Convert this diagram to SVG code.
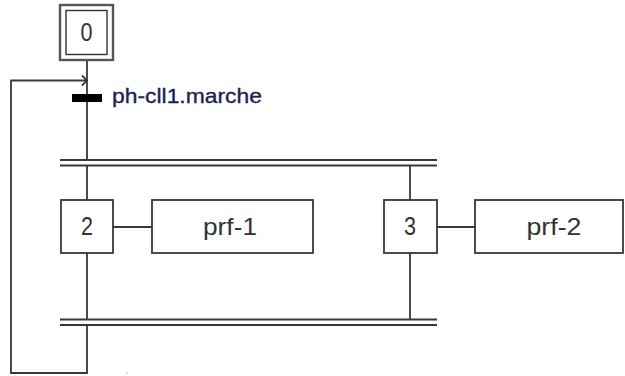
<svg xmlns="http://www.w3.org/2000/svg" width="625" height="376" viewBox="0 0 625 376">
<style>
  .ln{stroke:#383838;stroke-width:1.8;fill:none}
  .box{fill:#fff;stroke:#383838;stroke-width:1.8}
  .t{font-family:"Liberation Sans Narrow","Liberation Sans",Arial,sans-serif;fill:#333;text-anchor:middle}
  .num{font-size:25px}
  .lbl{font-size:24px}
</style>
<rect width="625" height="376" fill="#fff"/>
<g id="connectors">
  <line class="ln" x1="87" y1="60" x2="87" y2="160"/>
  <line class="ln" x1="87" y1="165" x2="87" y2="200"/>
  <line class="ln" x1="87" y1="253" x2="87" y2="319"/>
  <polyline class="ln" points="87,325 87,373 11,373 11,80.5 87,80.5"/>
  <polyline class="ln" points="82,75.5 87,80.5 82,85.5"/>
  <line class="ln" x1="410" y1="165" x2="410" y2="200"/>
  <line class="ln" x1="410" y1="253" x2="410" y2="319"/>
  <line class="ln" x1="113" y1="227" x2="152" y2="227"/>
  <line class="ln" x1="437" y1="227" x2="475" y2="227"/>
  <line class="ln" x1="60" y1="160" x2="437" y2="160"/>
  <line class="ln" x1="60" y1="165.5" x2="437" y2="165.5"/>
  <line class="ln" x1="60" y1="319.5" x2="437" y2="319.5"/>
  <line class="ln" x1="60" y1="325" x2="437" y2="325"/>
  <circle cx="127" cy="373" r="0.8" fill="#bbb"/>
</g>
<g id="step0">
  <rect x="60" y="5" width="53" height="55" fill="#fff" stroke="#555" stroke-width="2.4"/>
  <rect x="66" y="10.5" width="41" height="44" fill="#fff" stroke="#333" stroke-width="1.4"/>
  <text class="t num" x="86.5" y="41" textLength="12" lengthAdjust="spacingAndGlyphs">0</text>
</g>
<g id="transition1">
  <rect x="72" y="94" width="30" height="8" fill="#000"/>
  <text x="112" y="103" font-family="Liberation Sans Narrow,Liberation Sans,Arial,sans-serif" font-size="21" fill="#1e1e50" stroke="#1e1e50" stroke-width="0.35" textLength="150" lengthAdjust="spacingAndGlyphs">ph-cll1.marche</text>
</g>
<g id="step2">
  <rect class="box" x="61" y="200" width="52" height="53"/>
  <text class="t num" x="87" y="235" textLength="12" lengthAdjust="spacingAndGlyphs">2</text>
</g>
<g id="action1">
  <rect class="box" x="152" y="200" width="161" height="53"/>
  <text class="t lbl" x="230" y="235" textLength="54" lengthAdjust="spacingAndGlyphs">prf-1</text>
</g>
<g id="step3">
  <rect class="box" x="384" y="200" width="53" height="53"/>
  <text class="t num" x="410" y="235" textLength="12" lengthAdjust="spacingAndGlyphs">3</text>
</g>
<g id="action2">
  <rect class="box" x="475" y="200" width="148" height="53"/>
  <text class="t lbl" x="554" y="235" textLength="55" lengthAdjust="spacingAndGlyphs">prf-2</text>
</g>
</svg>
